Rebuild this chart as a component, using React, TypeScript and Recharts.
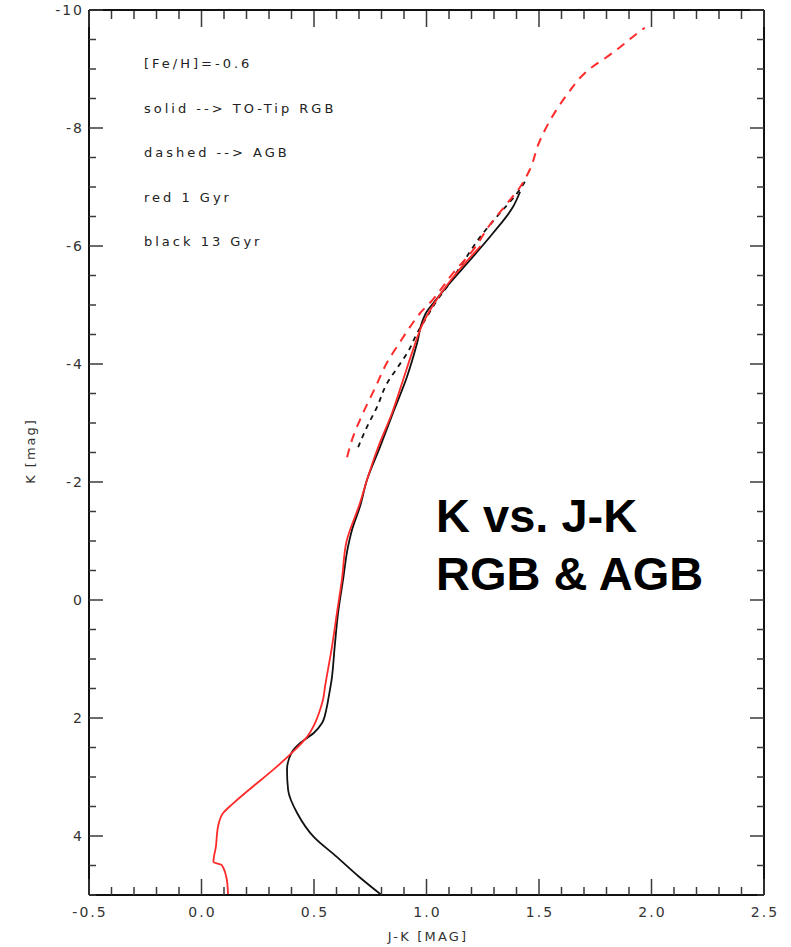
import React from 'react';
import { LineChart, Line, XAxis, YAxis } from 'recharts';

// tick positions (J-K every 0.1, K every 0.5)
const X_TICKS = [
  -0.5, -0.4, -0.3, -0.2, -0.1, 0.0, 0.1, 0.2, 0.3, 0.4, 0.5, 0.6, 0.7, 0.8, 0.9, 1.0,
  1.1, 1.2, 1.3, 1.4, 1.5, 1.6, 1.7, 1.8, 1.9, 2.0, 2.1, 2.2, 2.3, 2.4, 2.5,
];
const Y_TICKS = [
  -10, -9.5, -9, -8.5, -8, -7.5, -7, -6.5, -6, -5.5, -5, -4.5, -4, -3.5, -3, -2.5, -2,
  -1.5, -1, -0.5, 0, 0.5, 1, 1.5, 2, 2.5, 3, 3.5, 4, 4.5, 5,
];
const X_MAJOR = [-0.5, 0.0, 0.5, 1.0, 1.5, 2.0, 2.5];
const Y_MAJOR = [-10, -8, -6, -4, -2, 0, 2, 4];

// 13 Gyr, TO -> tip RGB (solid black)
const rgbOld = [
  { x: 0.8, y: 5.0 }, { x: 0.7, y: 4.69 }, { x: 0.6, y: 4.35 }, { x: 0.5, y: 4.02 },
  { x: 0.425, y: 3.61 }, { x: 0.385, y: 3.22 }, { x: 0.38, y: 2.88 }, { x: 0.4, y: 2.59 },
  { x: 0.44, y: 2.42 }, { x: 0.5, y: 2.25 }, { x: 0.535, y: 2.09 }, { x: 0.555, y: 1.85 },
  { x: 0.565, y: 1.65 }, { x: 0.578, y: 1.36 }, { x: 0.592, y: 0.79 }, { x: 0.607, y: 0.22 },
  { x: 0.629, y: -0.34 }, { x: 0.651, y: -0.9 }, { x: 0.669, y: -1.19 }, { x: 0.704, y: -1.58 },
  { x: 0.735, y: -2.03 }, { x: 0.793, y: -2.59 }, { x: 0.851, y: -3.17 }, { x: 0.913, y: -3.78 },
  { x: 0.958, y: -4.35 }, { x: 0.984, y: -4.75 }, { x: 1.0, y: -4.88 }, { x: 1.03, y: -5.03 },
  { x: 1.11, y: -5.4 }, { x: 1.193, y: -5.76 }, { x: 1.296, y: -6.22 }, { x: 1.384, y: -6.66 },
  { x: 1.416, y: -6.92 },
];

// 1 Gyr, TO -> tip RGB (solid red)
const rgbYoung = [
  { x: 0.118, y: 5.0 }, { x: 0.113, y: 4.75 }, { x: 0.09, y: 4.49 }, { x: 0.053, y: 4.44 },
  { x: 0.064, y: 4.18 }, { x: 0.073, y: 3.85 }, { x: 0.096, y: 3.61 }, { x: 0.14, y: 3.45 },
  { x: 0.229, y: 3.16 }, { x: 0.318, y: 2.88 }, { x: 0.407, y: 2.57 }, { x: 0.469, y: 2.32 },
  { x: 0.504, y: 2.09 }, { x: 0.527, y: 1.86 }, { x: 0.54, y: 1.69 }, { x: 0.549, y: 1.47 },
  { x: 0.58, y: 0.79 }, { x: 0.602, y: 0.22 }, { x: 0.624, y: -0.34 }, { x: 0.645, y: -1.0 },
  { x: 0.704, y: -1.64 }, { x: 0.735, y: -2.03 }, { x: 0.785, y: -2.59 }, { x: 0.847, y: -3.17 },
  { x: 0.896, y: -3.73 }, { x: 0.94, y: -4.24 }, { x: 0.984, y: -4.69 }, { x: 1.03, y: -5.0 },
  { x: 1.118, y: -5.47 }, { x: 1.24, y: -6.0 },
];

// 1 Gyr AGB (dashed red)
const agbYoung = [
  { x: 0.647, y: -2.42 }, { x: 0.673, y: -2.76 }, { x: 0.718, y: -3.17 }, { x: 0.771, y: -3.59 },
  { x: 0.824, y: -4.02 }, { x: 0.882, y: -4.37 }, { x: 0.927, y: -4.63 }, { x: 0.971, y: -4.86 },
  { x: 1.03, y: -5.1 }, { x: 1.118, y: -5.54 }, { x: 1.207, y: -5.93 }, { x: 1.282, y: -6.36 },
  { x: 1.358, y: -6.72 }, { x: 1.416, y: -7.0 }, { x: 1.46, y: -7.3 }, { x: 1.5, y: -7.75 },
  { x: 1.545, y: -8.1 }, { x: 1.59, y: -8.38 }, { x: 1.635, y: -8.62 }, { x: 1.685, y: -8.86 },
  { x: 1.735, y: -9.03 }, { x: 1.8, y: -9.2 }, { x: 1.86, y: -9.37 }, { x: 1.935, y: -9.6 },
  { x: 1.97, y: -9.7 },
];

// 13 Gyr AGB (dashed black)
const agbOld = [
  { x: 0.696, y: -2.59 }, { x: 0.735, y: -2.93 }, { x: 0.78, y: -3.27 }, { x: 0.824, y: -3.67 },
  { x: 0.873, y: -3.95 }, { x: 0.918, y: -4.21 }, { x: 0.958, y: -4.52 }, { x: 1.002, y: -4.8 },
  { x: 1.047, y: -5.08 }, { x: 1.09, y: -5.3 }, { x: 1.162, y: -5.72 }, { x: 1.238, y: -6.15 },
  { x: 1.327, y: -6.56 }, { x: 1.4, y: -6.88 }, { x: 1.447, y: -7.15 },
];

const NOTES = ['[Fe/H]=-0.6', 'solid --> TO-Tip RGB', 'dashed --> AGB', 'red 1 Gyr', 'black 13 Gyr'];
const TITLE = ['K vs. J-K', 'RGB & AGB'];

const FONT = '"DejaVu Sans", sans-serif';
const TICK_COLOR = '#3a3a3a';
const RED = '#ff2a2a';

const near = (a: number, list: number[]) => list.some((b) => Math.abs(a - b) < 1e-6);

const BottomTick = (props: any) => {
  const { x, y, payload } = props;
  const major = near(payload.value, X_MAJOR);
  return (
    <g>
      <line x1={x} x2={x} y1={y} y2={y - (major ? 16 : 8)} stroke={TICK_COLOR} strokeWidth={1.5} />
      {major && (
        <text x={x + 1} y={y + 22} textAnchor="middle" fontFamily={FONT} fontSize={14} letterSpacing={2} fill="#333">
          {payload.value.toFixed(1)}
        </text>
      )}
    </g>
  );
};

const TopTick = (props: any) => {
  const { x, y, payload } = props;
  const major = near(payload.value, X_MAJOR);
  return <line x1={x} x2={x} y1={y + 1} y2={y + 1 + (major ? 16 : 8)} stroke={TICK_COLOR} strokeWidth={1.5} />;
};

const LeftTick = (props: any) => {
  const { x, y, payload } = props;
  const major = near(payload.value, Y_MAJOR);
  return (
    <g>
      <line x1={x} x2={x + (major ? 14 : 7)} y1={y} y2={y} stroke={TICK_COLOR} strokeWidth={1.5} />
      {major && (
        <text x={x - 5} y={y + 5} textAnchor="end" fontFamily={FONT} fontSize={14} letterSpacing={2} fill="#333">
          {String(payload.value)}
        </text>
      )}
    </g>
  );
};

const RightTick = (props: any) => {
  const { x, y, payload } = props;
  const major = near(payload.value, Y_MAJOR);
  return <line x1={x} x2={x - (major ? 14 : 7)} y1={y} y2={y} stroke={TICK_COLOR} strokeWidth={1.5} />;
};

const axisLine = { stroke: '#111', strokeWidth: 2 };

export default function App() {
  return (
    <div style={{ position: 'absolute', left: 0, top: 0, width: 791, height: 947, background: '#fff' }}>
      <LineChart width={791} height={947} margin={{ top: 9, right: 26, bottom: 0, left: 0 }}>
        <XAxis
          type="number" dataKey="x" domain={[-0.5, 2.5]} ticks={X_TICKS} interval={0}
          allowDataOverflow height={52} tickSize={0} tickMargin={0} tickLine={false}
          axisLine={axisLine} tick={BottomTick}
        />
        <XAxis
          xAxisId="top" orientation="top" type="number" dataKey="x" domain={[-0.5, 2.5]}
          ticks={X_TICKS} interval={0} allowDataOverflow height={1} tickSize={0} tickMargin={0}
          tickLine={false} axisLine={axisLine} tick={TopTick}
        />
        <YAxis
          type="number" domain={[-10, 5]} reversed ticks={Y_TICKS} interval={0} allowDataOverflow
          width={89} tickSize={0} tickMargin={0} tickLine={false} axisLine={axisLine} tick={LeftTick}
        />
        <YAxis
          yAxisId="right" orientation="right" type="number" domain={[-10, 5]} reversed
          ticks={Y_TICKS} interval={0} allowDataOverflow width={1} tickSize={0} tickMargin={0}
          tickLine={false} axisLine={axisLine} tick={RightTick}
        />
        {/* invisible series so the mirrored frame axes get drawn */}
        <Line xAxisId="top" yAxisId="right" data={agbOld} dataKey="y" stroke="none" dot={false} isAnimationActive={false} legendType="none" />
        <Line data={rgbOld} dataKey="y" type="monotoneY" stroke="#111" strokeWidth={1.8} dot={false} isAnimationActive={false} />
        <Line data={agbOld} dataKey="y" type="monotoneY" stroke="#111" strokeWidth={1.8} strokeDasharray="5 5" dot={false} isAnimationActive={false} />
        <Line data={rgbYoung} dataKey="y" type="monotoneY" stroke={RED} strokeWidth={1.8} dot={false} isAnimationActive={false} />
        <Line data={agbYoung} dataKey="y" type="monotoneY" stroke={RED} strokeWidth={2} strokeDasharray="9 7" dot={false} isAnimationActive={false} />
      </LineChart>
      <svg width={791} height={947} style={{ position: 'absolute', left: 0, top: 0, pointerEvents: 'none' }}>
        {NOTES.map((t, i) => (
          <text key={t} x={144} y={68 + i * 44.5} fontFamily={FONT} fontSize={13} letterSpacing={3} fill="#222">
            {t}
          </text>
        ))}
        <text x={428} y={941} textAnchor="middle" fontFamily={FONT} fontSize={13} letterSpacing={2.2} fill="#333">
          J-K [MAG]
        </text>
        <text
          x={0} y={0} transform="translate(35 451) rotate(-90)" textAnchor="middle"
          fontFamily={FONT} fontSize={13} letterSpacing={2} fill="#333"
        >
          K [mag]
        </text>
        {TITLE.map((t, i) => (
          <text key={t} x={436} y={532 + i * 58} fontFamily='"Liberation Sans", Arial, sans-serif' fontWeight="bold" fontSize={47} fill="#000">
            {t}
          </text>
        ))}
      </svg>
    </div>
  );
}
